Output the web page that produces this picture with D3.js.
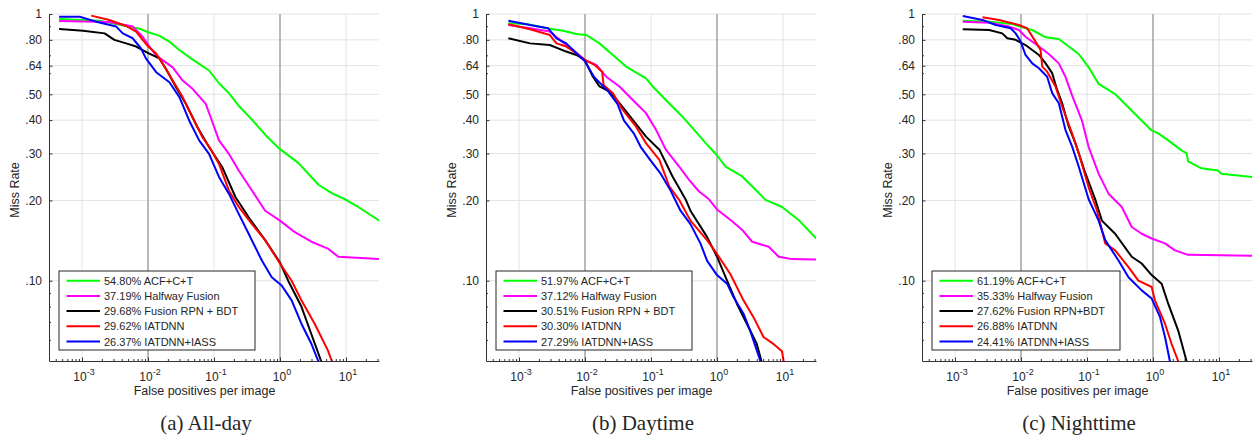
<!DOCTYPE html>
<html>
<head>
<meta charset="utf-8">
<script src="https://cdn.jsdelivr.net/npm/d3@7"></script>
<style>
  body { margin: 0; background: #fff; }
  svg { display: block; }
  text { font-family: "Liberation Sans", Arial, sans-serif; fill: #262626; }
</style>
</head>
<body>
<svg width="1256" height="438"></svg>
<script>
// ---- data: [false positives per image, miss rate] ----
const allDayACF = [[4.5e-4,.958],[1.85e-3,.944],[7.4e-3,.881],[.0101,.854],[.0148,.830],[.021,.788],[.0297,.733],[.0471,.676],[.0841,.614],[.119,.550],[.168,.505],[.238,.452],[.378,.401],[.601,.352],[.989,.312],[1.91,.276],[3.83,.229],[6.08,.213],[9.66,.202],[15.3,.189],[32,.168]];
const allDayHalfway = [[4.5e-4,.941],[2.6e-3,.933],[5.9e-3,.897],[8.3e-3,.822],[.0101,.765],[.0132,.700],[.0237,.631],[.0335,.563],[.0473,.524],[.075,.460],[.089,.410],[.119,.336],[.168,.299],[.237,.259],[.376,.218],[.596,.183],[1.0,.168],[1.68,.152],[2.99,.140],[5.3,.132],[7.65,.123],[32,.1205]];
const allDayFusion = [[4.5e-4,.879],[1.04e-3,.866],[2.2e-3,.846],[3.1e-3,.800],[4.66e-3,.776],[6.6e-3,.755],[.0101,.713],[.0148,.682],[.0188,.622],[.0266,.531],[.0376,.460],[.0562,.376],[.0841,.317],[.133,.267],[.211,.206],[.335,.173],[.596,.142],[1.0,.117],[1.33,.100],[2.11,.080],[2.99,.063],[4.2,.050],[4.3,.048]];
const allDayIATDNN = [[1.38e-3,.986],[2.6e-3,.950],[4.66e-3,.902],[6.6e-3,.859],[8.3e-3,.800],[.0101,.755],[.0132,.713],[.0168,.650],[.0237,.563],[.0335,.488],[.0473,.410],[.0668,.345],[.089,.312],[.119,.274],[.168,.218],[.237,.189],[.376,.163],[.596,.142],[1.0,.116],[1.5,.100],[2.11,.0844],[3.35,.069],[5.31,.0548],[6.1,.050],[6.2,.048]];
const allDayIASS = [[4.5e-4,.977],[9.2e-4,.977],[1.64e-3,.936],[3.3e-3,.897],[4.15e-3,.846],[5.87e-3,.811],[7.8e-3,.744],[9.3e-3,.682],[.0133,.605],[.0211,.555],[.0299,.488],[.0422,.398],[.0596,.336],[.0841,.299],[.119,.245],[.168,.212],[.237,.178],[.335,.150],[.531,.119],[.75,.103],[1.06,.096],[1.5,.0844],[2.11,.069],[2.99,.058],[3.8,.050],[3.9,.048]];

const dayACF = [[6.9e-4,.923],[1.31e-3,.917],[2.61e-3,.884],[4.66e-3,.866],[7.4e-3,.842],[.0105,.834],[.0166,.776],[.0264,.702],[.042,.635],[.084,.574],[.106,.535],[.168,.476],[.30,.412],[.476,.362],[.674,.328],[.99,.296],[1.35,.268],[2.41,.246],[3.41,.226],[5.42,.201],[9.66,.189],[17.2,.169],[32,.144]];
const dayHalfway = [[6.9e-4,.909],[1.47e-3,.884],[2.93e-3,.859],[4.15e-3,.800],[6.6e-3,.733],[9.9e-3,.673],[.0148,.644],[.021,.582],[.0333,.535],[.053,.476],[.084,.425],[.119,.368],[.168,.310],[.267,.268],[.378,.239],[.535,.216],[.757,.202],[1.0,.185],[1.70,.167],[2.41,.155],[3.41,.140],[6.08,.134],[8.6,.123],[13.7,.1205],[32,.120]];
const dayFusion = [[6.9e-4,.811],[1.47e-3,.776],[2.93e-3,.765],[5.2e-3,.723],[7.4e-3,.702],[9.9e-3,.673],[.0132,.582],[.0166,.535],[.0236,.512],[.0333,.463],[.053,.401],[.084,.347],[.134,.310],[.212,.246],[.337,.201],[.396,.183],[.706,.146],[1.0,.123],[1.42,.100],[2.0,.082],[2.83,.069],[4.0,.058],[4.71,.050],[4.8,.048]];
const dayIATDNN = [[6.9e-4,.915],[1.47e-3,.876],[2.93e-3,.834],[3.7e-3,.776],[5.2e-3,.755],[7.4e-3,.713],[9.9e-3,.673],[.014,.644],[.0182,.608],[.0191,.542],[.0264,.505],[.0374,.437],[.0594,.378],[.084,.328],[.134,.284],[.189,.226],[.267,.201],[.396,.168],[.706,.142],[1.0,.126],[1.59,.106],[2.52,.0844],[3.57,.073],[5.06,.0615],[6.8,.0585],[9.66,.0544],[10.2,.050],[10.3,.047]];
const dayIASS = [[6.9e-4,.944],[1.47e-3,.909],[2.77e-3,.884],[3.7e-3,.811],[5.2e-3,.776],[7.4e-3,.713],[9.8e-3,.668],[.0138,.579],[.022,.516],[.031,.460],[.039,.398],[.0555,.355],[.070,.317],[.0989,.282],[.140,.252],[.198,.218],[.28,.183],[.396,.163],[.561,.138],[.706,.119],[1.0,.105],[1.42,.0975],[1.78,.0869],[2.52,.0752],[3.18,.065],[4.5,.0503],[4.71,.048]];

const nightACF = [[1.31e-3,.944],[3.3e-3,.936],[7.4e-3,.917],[.0105,.891],[.0148,.871],[.0236,.818],[.0374,.806],[.053,.755],[.0748,.708],[.106,.631],[.15,.547],[.267,.501],[.378,.460],[.535,.422],[.955,.366],[1.2,.357],[1.70,.336],[2.70,.308],[3.22,.301],[3.41,.280],[5.42,.264],[9.66,.259],[10.8,.252],[32,.245]];
const nightHalfway = [[1.31e-3,.936],[3.3e-3,.928],[6.6e-3,.897],[9.3e-3,.871],[.0117,.822],[.0187,.755],[.0264,.708],[.0374,.653],[.0471,.582],[.0594,.495],[.084,.398],[.106,.317],[.15,.252],[.212,.212],[.337,.189],[.476,.159],[.674,.150],[.955,.144],[1.52,.138],[2.15,.130],[3.41,.125],[32,.124]];
const nightFusion = [[1.31e-3,.876],[3.3e-3,.871],[5.2e-3,.846],[6.2e-3,.811],[8.3e-3,.800],[.0117,.765],[.0148,.733],[.0187,.702],[.0236,.653],[.0297,.600],[.0353,.519],[.042,.463],[.053,.378],[.0667,.328],[.0944,.253],[.134,.201],[.168,.168],[.267,.150],[.476,.123],[.674,.116],[.955,.105],[1.35,.0975],[1.70,.082],[2.41,.065],[3.22,.050],[3.3,.048]];
const nightIATDNN = [[2.61e-3,.972],[4.66e-3,.950],[9.3e-3,.909],[.0124,.884],[.0166,.788],[.0198,.733],[.021,.635],[.0249,.608],[.0333,.535],[.042,.450],[.0594,.357],[.0748,.301],[.106,.224],[.142,.183],[.189,.138],[.267,.130],[.425,.1125],[.601,.100],[.955,.0947],[1.07,.0844],[1.52,.069],[1.91,.058],[2.41,.050],[2.5,.048]];
const nightIASS = [[1.31e-3,.983],[2.61e-3,.950],[4.15e-3,.909],[6.98e-3,.884],[8.3e-3,.846],[9.9e-3,.788],[.0117,.702],[.0148,.653],[.0187,.626],[.0249,.582],[.0297,.505],[.0374,.463],[.0471,.368],[.0594,.319],[.0748,.268],[.106,.202],[.15,.168],[.189,.142],[.30,.119],[.425,.103],[.674,.092],[.955,.0857],[1.28,.073],[1.52,.0615],[1.80,.050],[1.85,.048]];

const legendAllDay = ["54.80% ACF+C+T", "37.19% Halfway Fusion", "29.68% Fusion RPN + BDT", "29.62% IATDNN", "26.37% IATDNN+IASS"];
const legendDay = ["51.97% ACF+C+T", "37.12% Halfway Fusion", "30.51% Fusion RPN + BDT", "30.30% IATDNN", "27.29% IATDNN+IASS"];
const legendNight = ["61.19% ACF+C+T", "35.33% Halfway Fusion", "27.62% Fusion RPN+BDT", "26.88% IATDNN", "24.41% IATDNN+IASS"];
const captions = ["(a) All-day", "(b) Daytime", "(c) Nighttime"];

const methodColors = ["#00ff00", "#ff00ff", "#000000", "#ff0000", "#0000ff"];
const fppiTicks = [1e-3, 1e-2, 1e-1, 1, 10];
const fppiExps = ["-3", "-2", "-1", "0", "1"];
const missTicks = [1, 0.8, 0.64, 0.5, 0.4, 0.3, 0.2, 0.1];
const missLabels = ["1", ".80", ".64", ".50", ".40", ".30", ".20", ".10"];
const missMinor = [0.9, 0.7, 0.6, 0.09, 0.08, 0.07, 0.06];

const panels = [
    { left: 49, series: [allDayACF, allDayHalfway, allDayFusion, allDayIATDNN, allDayIASS], legend: legendAllDay, legendW: 196 },
    { left: 486, series: [dayACF, dayHalfway, dayFusion, dayIATDNN, dayIASS], legend: legendDay, legendW: 196 },
    { left: 922, series: [nightACF, nightHalfway, nightFusion, nightIATDNN, nightIASS], legend: legendNight, legendW: 188 }
];

const svg = d3.select("svg");
const width = 330, height = 347, plotTop = 14;

const x = d3.scaleLog().domain([Math.pow(10, -3.5), Math.pow(10, 1.5)]).range([0, width]);
const y = d3.scaleLog().domain([0.05, 1]).range([height, 0]);

// minor x ticks (2..9 per decade) inside the domain
const xMinor = [];
for (let d = -4; d <= 1; d++) {
    for (let k = 2; k <= 9; k++) {
        const v = k * Math.pow(10, d);
        if (v >= x.domain()[0] && v <= x.domain()[1]) xMinor.push(v);
    }
}

const line = d3.line().x(d => x(d[0])).y(d => y(d[1]));

panels.forEach((p, i) => {
    const g = svg.append("g").attr("transform", `translate(${p.left},${plotTop})`);

    // grid
    g.selectAll(".hgrid").data(missTicks).enter().append("line")
        .attr("x1", 0).attr("x2", width)
        .attr("y1", d => y(d)).attr("y2", d => y(d))
        .attr("stroke", "#e3e3e3").attr("stroke-width", 1);
    g.selectAll(".vgrid").data(fppiTicks).enter().append("line")
        .attr("x1", d => x(d)).attr("x2", d => x(d))
        .attr("y1", 0).attr("y2", height)
        .attr("stroke", d => (d === 1e-2 || d === 1) ? "#a8a8a8" : "#e3e3e3")
        .attr("stroke-width", d => (d === 1e-2 || d === 1) ? 1.6 : 1);

    // curves
    const clipId = "clip" + i;
    g.append("clipPath").attr("id", clipId).append("rect")
        .attr("x", 0).attr("y", 0).attr("width", width).attr("height", height);
    g.append("g").attr("clip-path", `url(#${clipId})`)
        .selectAll("path").data(p.series).enter().append("path")
        .attr("d", line)
        .attr("fill", "none")
        .attr("stroke", (d, j) => methodColors[j])
        .attr("stroke-width", 2)
        .attr("stroke-linejoin", "round");

    // y axis
    const yAxis = g.append("g")
        .call(d3.axisLeft(y).tickValues(missTicks).tickFormat((d, j) => missLabels[j])
            .tickSizeInner(-3.5).tickSizeOuter(0).tickPadding(7));
    g.append("g")
        .call(d3.axisLeft(y).tickValues(missMinor).tickFormat("").tickSizeInner(-2).tickSizeOuter(0))
        .select(".domain").remove();

    // x axis
    g.append("g").attr("transform", `translate(0,${height})`)
        .call(d3.axisBottom(x).tickValues(fppiTicks).tickFormat("").tickSizeInner(-3.5).tickSizeOuter(0));
    g.append("g").attr("transform", `translate(0,${height})`)
        .call(d3.axisBottom(x).tickValues(xMinor).tickFormat("").tickSizeInner(-2).tickSizeOuter(0))
        .select(".domain").remove();

    g.selectAll(".domain").attr("stroke", "#333");
    g.selectAll(".tick line").attr("stroke", "#333");
    yAxis.selectAll("text").style("font-size", "12px").attr("fill", "#333")
        .style("font-family", '"Liberation Sans", Arial, sans-serif');

    fppiTicks.forEach((v, j) => {
        const t = g.append("text")
            .attr("x", x(v) + 2).attr("y", height + 20)
            .attr("text-anchor", "middle")
            .style("font-size", "12px").attr("fill", "#333");
        t.append("tspan").text("10");
        t.append("tspan").attr("dy", -6).style("font-size", "9px").text(fppiExps[j]);
    });

    g.append("text")
        .attr("x", 155.5).attr("y", height + 34)
        .attr("text-anchor", "middle")
        .style("font-size", "12.5px").attr("fill", "#333")
        .text("False positives per image");

    g.append("text")
        .attr("transform", `translate(-30,${176}) rotate(-90)`)
        .attr("text-anchor", "middle")
        .style("font-size", "12.5px").attr("fill", "#333")
        .text("Miss Rate");

    // legend
    const lg = g.append("g").attr("transform", `translate(10,${257})`);
    lg.append("rect").attr("width", p.legendW).attr("height", 79)
        .attr("fill", "#fff").attr("stroke", "#262626").attr("stroke-width", 1);
    p.legend.forEach((label, j) => {
        const ry = 9.7 + j * 15.2;
        lg.append("line").attr("x1", 7.5).attr("x2", 41).attr("y1", ry).attr("y2", ry)
            .attr("stroke", methodColors[j]).attr("stroke-width", 2);
        lg.append("text").attr("x", 45).attr("y", ry + 4)
            .style("font-size", "11px").attr("fill", "#262626").text(label);
    });

    // caption
    svg.append("text")
        .attr("x", p.left + 157).attr("y", 430)
        .attr("text-anchor", "middle")
        .style("font-family", '"Liberation Serif", "Times New Roman", serif')
        .style("font-size", "21px").attr("fill", "#222")
        .text(captions[i]);
});
</script>
</body>
</html>
